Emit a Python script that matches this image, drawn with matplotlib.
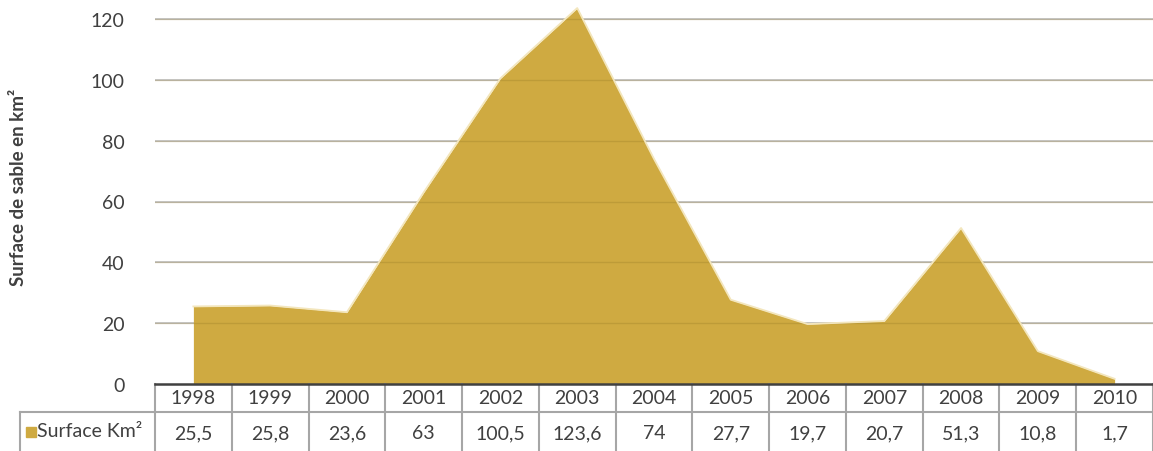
import matplotlib.pyplot as plt
from matplotlib.lines import Line2D
from matplotlib.patches import Rectangle

years = ['1998', '1999', '2000', '2001', '2002', '2003', '2004',
         '2005', '2006', '2007', '2008', '2009', '2010']
surface = [25.5, 25.8, 23.6, 63, 100.5, 123.6, 74, 27.7, 19.7, 20.7, 51.3, 10.8, 1.7]
series_name = 'Surface Km²'
yticks = [0, 20, 40, 60, 80, 100, 120]

fill_color = '#CFAA41'
text_color = '#404040'
grid_color = '#c4c4c4'
table_color = '#a6a6a6'

plt.rcParams['font.family'] = ['Lato', 'DejaVu Sans']
fs = 14

W, H = 1153, 452
fig = plt.figure(figsize=(W / 100, H / 100), dpi=100)

# plot area in pixels: left 155, right 1153, bottom y=385, top y=0
ax = fig.add_axes([155 / W, (H - 385) / H, 998 / W, 385 / H])
x = list(range(len(years)))
ax.fill_between(x, surface, 0, color=fill_color, zorder=2, linewidth=0)
ax.plot(x, surface, color='#f3e6bd', linewidth=1.3, zorder=3)

ymax = 120 * 385 / 365
ax.set_ylim(0, ymax)
ax.set_xlim(-0.5, len(years) - 0.5)
ax.set_yticks(yticks)
ax.set_yticklabels([str(t) for t in yticks], fontsize=fs, color=text_color)
ax.tick_params(axis='y', length=0, pad=22)
ax.set_xticks([])
for t in yticks[1:]:
    ax.axhline(t, color=grid_color, linewidth=1.3, zorder=1)
    ax.axhline(t, color='#8a7020', linewidth=1.0, alpha=0.25, zorder=2.5)
for s in ['top', 'right', 'left']:
    ax.spines[s].set_visible(False)
ax.spines['bottom'].set_color('#404040')
ax.spines['bottom'].set_linewidth(1.8)
ax.spines['bottom'].set_zorder(5)

fig.text(19 / W, 1 - 187 / H, 'Surface de sable en km²', rotation=90,
         ha='center', va='center', fontsize=13.5, fontweight='bold', color=text_color)

# data table below the plot
tr = ax.get_xaxis_transform()
row1_bot = -(413 - 385) / 385
row2_bot = -(455 - 385) / 385
for i, (yr, v) in enumerate(zip(years, surface)):
    ax.text(i, row1_bot / 2, yr, transform=tr, ha='center', va='center',
            fontsize=fs, color=text_color, clip_on=False)
    label = ('%g' % v).replace('.', ',')
    ax.text(i, (row1_bot + row2_bot) / 2, label, transform=tr, ha='center',
            va='center', fontsize=fs, color=text_color, clip_on=False)
    ax.add_line(Line2D([i - 0.5, i - 0.5], [0, row2_bot], transform=tr,
                       color=table_color, linewidth=1.5, clip_on=False))
ax.add_line(Line2D([len(years) - 0.5] * 2, [0, row2_bot], transform=tr,
                   color=table_color, linewidth=1.5, clip_on=False))
ax.add_line(Line2D([-0.5, len(years) - 0.5], [row1_bot, row1_bot], transform=tr,
                   color=table_color, linewidth=1.5, clip_on=False))

# legend cell
fig.add_artist(Line2D([20 / W, 155 / W], [1 - 413 / H] * 2, color=table_color, linewidth=1.5))
fig.add_artist(Line2D([20 / W, 20 / W], [1 - 413 / H, 0], color=table_color, linewidth=1.5))
fig.add_artist(Rectangle((26 / W, 1 - 438 / H), 10 / W, 10 / H, color=fill_color))
fig.text(37 / W, 1 - 432 / H, series_name, ha='left', va='center',
         fontsize=fs, color=text_color)

fig.savefig('out.png', dpi=100)
